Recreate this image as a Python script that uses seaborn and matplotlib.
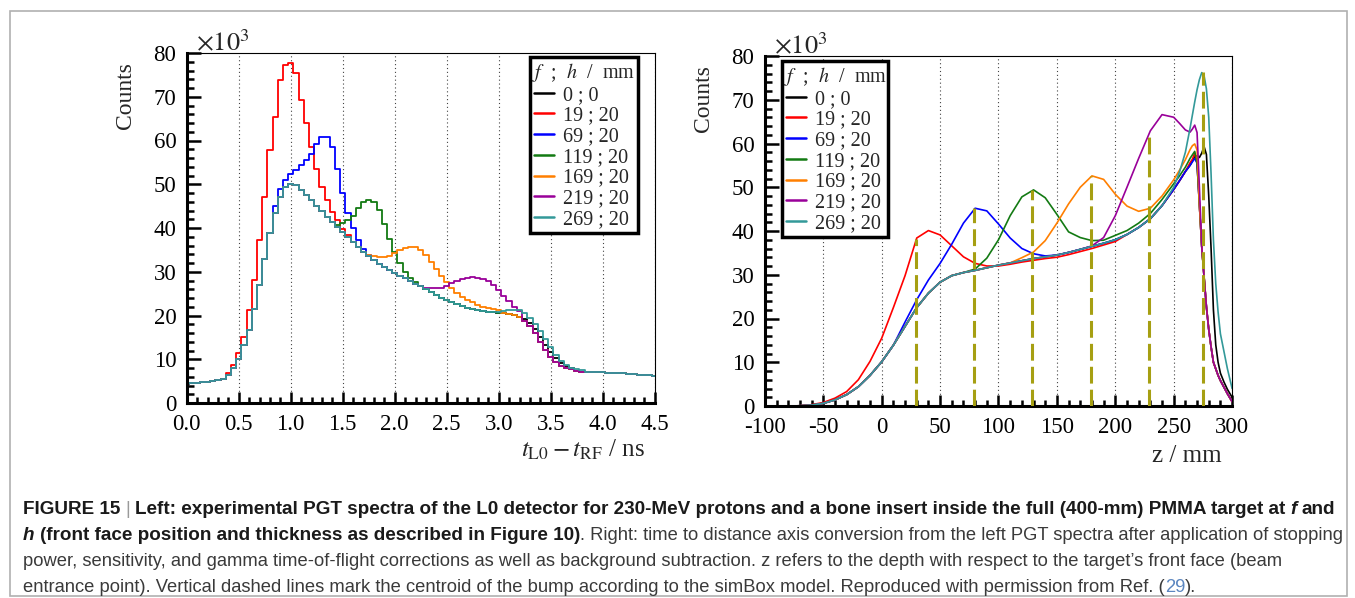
import numpy as np
import pandas as pd
import matplotlib
matplotlib.use("Agg")
import matplotlib.pyplot as plt
import seaborn as sns
from matplotlib import font_manager
from matplotlib.lines import Line2D
from matplotlib.patches import Rectangle
from matplotlib.ticker import MultipleLocator, FuncFormatter

sns.set_style("ticks")
plt.rcParams['font.family'] = ['Liberation Serif', 'DejaVu Serif']
plt.rcParams['mathtext.fontset'] = 'stix'
plt.rcParams['axes.unicode_minus'] = False

W, H = 1355, 598

# f ; h configurations and their colours
configs = ['0 ; 0', '19 ; 20', '69 ; 20', '119 ; 20', '169 ; 20', '219 ; 20', '269 ; 20']
colors = ['#000000', '#ff0000', '#0000ff', '#137a13', '#ff7f00', '#990099', '#339999']

# ---- left panel: PGT time spectra (x10^3 counts), 0.05 ns bins ----
t_step = 0.05
t_base = [
    4.4, 4.5, 4.6, 4.7, 4.8, 5.0, 5.2, 5.6, 6.3, 7.9,
    10.0, 13.2, 16.8, 21.5, 27.0, 33.0, 38.8, 43.5, 47.2, 49.3,
    50.1, 49.8, 48.8, 47.6, 46.3, 45.0, 43.8, 42.6, 41.4, 40.2,
    39.0, 37.9, 36.8, 35.7, 34.6, 33.6, 32.7, 31.8, 31.0, 30.4,
    29.8, 29.1, 28.5, 27.9, 27.3, 26.7, 26.0, 25.3, 24.7, 24.1,
    23.5, 23.0, 22.6, 22.2, 21.8, 21.5, 21.2, 21.0, 20.8, 20.7,
    20.6, 20.5, 20.4, 20.1, 19.6, 18.8, 17.6, 16.0, 14.0, 12.1,
    10.5, 9.3, 8.5, 8.0, 7.7, 7.4, 7.2, 7.1, 7.0, 7.0,
    7.0, 6.9, 6.9, 6.8, 6.8, 6.7, 6.6, 6.5, 6.4, 6.3,
    6.2]
# (first bin in ns, values) where a configuration departs from the common shape
t_bumps = {
    '0 ; 0': (3.25, [19.2, 18.3, 16.9, 15.0, 13.2, 11.6, 10.2, 9.1, 8.4, 7.9]),
    '19 ; 20': (0.40, [6.8, 8.8, 11.4, 15.2, 21.3, 28.1, 37.3, 47.2, 57.8, 65.4,
                       73.8, 77.3, 77.8, 75.4, 69.3, 63.9, 58.6, 53.6, 49.4, 46.4,
                       43.7, 41.8, 39.8, 38.3]),
    '69 ; 20': (0.85, [45.0, 49.0, 51.0, 52.3, 53.3, 54.5, 55.6, 57.0, 59.2, 60.8,
                       60.8, 58.5, 53.5, 48.0, 43.5, 40.0, 37.2, 35.2, 33.9]),
    '119 ; 20': (1.45, [40.6, 41.2, 41.8, 42.8, 44.6, 46.0, 46.5, 46.0, 44.2, 41.0,
                        37.6, 34.6, 32.0, 30.0, 28.6, 27.6]),
    '169 ; 20': (1.75, [33.8, 33.6, 33.4, 33.3, 33.6, 34.3, 35.0, 35.5, 35.7, 35.6,
                        35.0, 33.8, 32.3, 30.6, 29.0, 27.6, 26.3, 25.2, 24.3, 23.6,
                        23.0, 22.5, 22.0, 21.7, 21.4, 21.2]),
    '219 ; 20': (2.30, [26.3, 26.2, 26.2, 26.4, 26.8, 27.4, 27.9, 28.3, 28.6, 28.7,
                        28.6, 28.4, 28.0, 27.0, 25.8, 24.5, 23.3, 22.0, 21.0]),
    '269 ; 20': (3.00, [20.8, 21.0, 21.2, 21.3, 21.2, 20.6, 19.5, 18.0, 16.4, 14.6,
                        12.9, 11.0, 9.6, 8.7, 8.1, 7.8, 7.5]),
}

# ---- right panel: depth profiles (x10^3 counts) ----
z_mm = [-100, -90, -80, -70, -60, -50, -40, -30, -20, -10,
        0, 10, 20, 30, 40, 50, 60, 70, 80, 90,
        100, 110, 120, 130, 140, 150, 160, 170, 180, 190,
        200, 210, 220, 230, 240, 250, 255, 260, 264, 266,
        268, 270, 272, 274, 276, 278, 280, 282, 284, 286,
        288, 290, 293, 296, 300]
z_base = [0.0, 0.0, 0.0, 0.05, 0.2, 0.6, 1.4, 2.6, 4.4, 7.0,
          10.1, 13.9, 18.2, 22.5, 25.8, 28.3, 29.8, 30.5, 31.0, 31.6,
          32.2, 32.7, 33.2, 33.7, 34.1, 34.5, 35.1, 35.8, 36.5, 37.2,
          38.0, 39.2, 40.8, 42.8, 45.8, 49.5, 51.5, 53.6, 55.6, 56.4,
          57.2, 55.5, 46.0, 36.5, 29.5, 22.7, 17.5, 13.5, 10.0, 8.5,
          7.0, 5.8, 4.3, 2.8, 1.0]
z_bumps = {
    '0 ; 0': {264: 55.0, 266: 56.0, 268: 57.0, 270: 57.2, 272: 56.8, 274: 57.8, 276: 59.3,
              278: 57.5, 280: 48.0, 282: 36.0, 284: 22.0, 286: 14.0, 288: 10.0, 290: 7.5,
              293: 5.5, 296: 3.8, 300: 2.0},
    '19 ; 20': {-60: 0.3, -50: 0.8, -40: 1.8, -30: 3.3, -20: 6.0, -10: 10.2, 0: 15.5, 10: 22.5,
                20: 29.8, 30: 38.4, 40: 40.1, 50: 39.1, 60: 36.6, 70: 34.1, 80: 32.6, 90: 32.0,
                100: 32.0, 110: 32.4, 120: 32.9, 130: 33.3, 140: 33.7, 150: 34.0, 160: 34.6,
                170: 35.3, 180: 36.0, 190: 36.8, 200: 37.6, 268: 57.8},
    '69 ; 20': {20: 19.2, 30: 24.3, 40: 28.8, 50: 32.6, 60: 37.0, 70: 41.8, 80: 45.2, 90: 44.6,
                100: 41.6, 110: 38.4, 120: 36.0, 130: 34.8, 140: 34.3, 264: 55.0, 266: 55.8,
                268: 56.6},
    '119 ; 20': {80: 31.3, 90: 33.8, 100: 38.0, 110: 43.5, 120: 47.8, 130: 49.4, 140: 47.6,
                 150: 43.8, 160: 39.8, 170: 38.5, 180: 37.8, 190: 37.9, 200: 39.0, 210: 40.1,
                 220: 41.8, 230: 44.0, 240: 47.2, 250: 50.8, 255: 52.6, 260: 54.6, 264: 56.6,
                 266: 57.4, 268: 58.2},
    '169 ; 20': {120: 33.9, 130: 35.2, 140: 37.8, 150: 41.8, 160: 46.2, 170: 50.0, 180: 52.6,
                 190: 51.8, 200: 48.4, 210: 45.7, 220: 44.5, 230: 45.2, 240: 48.0, 250: 51.7,
                 255: 53.9, 260: 56.3, 264: 58.6, 266: 59.5, 268: 59.9, 270: 58.5},
    '219 ; 20': {180: 36.6, 190: 38.5, 200: 43.5, 210: 50.0, 220: 56.6, 230: 62.9, 240: 66.6,
                 250: 66.0, 255: 64.6, 260: 63.1, 264: 62.6, 266: 63.3, 268: 64.2, 270: 62.5,
                 272: 50.0},
    '269 ; 20': {250: 50.0, 255: 53.5, 260: 58.0, 264: 63.5, 266: 66.5, 268: 69.5, 270: 72.3,
                 272: 74.6, 274: 76.2, 276: 75.5, 278: 72.5, 280: 66.0, 282: 53.0, 284: 38.0,
                 286: 28.0, 288: 21.5, 290: 16.5, 293: 12.5, 296: 8.5, 300: 4.0},
}
# simBox bump centroids (dashed markers)
centroid_z = [29, 79, 129, 179, 229, 275]
centroid_counts = [38.1, 45.3, 49.4, 52.6, 62.7, 76.4]


def left_series(cfg):
    vals = list(t_base)
    start, seg = t_bumps[cfg]
    i0 = int(round(start / t_step))
    vals[i0:i0 + len(seg)] = seg
    return vals


t_ns = np.arange(len(t_base)) * t_step
df_left = pd.concat([pd.DataFrame({'t': t_ns, 'counts': left_series(c), 'cfg': c}) for c in configs])
df_right = pd.concat([pd.DataFrame({'z': z_mm,
                                    'counts': [z_bumps[c].get(z, b) for z, b in zip(z_mm, z_base)],
                                    'cfg': c}) for c in configs])
palette = dict(zip(configs, colors))

fig = plt.figure(figsize=(W / 100, H / 100), dpi=100)
ax1 = fig.add_axes([186.7 / W, 1 - 403 / H, 468 / W, 350 / H])
ax2 = fig.add_axes([764.9 / W, 1 - 406 / H, 467.2 / W, 350 / H])

sns.lineplot(data=df_left, x='t', y='counts', hue='cfg', hue_order=configs, palette=palette,
             estimator=None, drawstyle='steps-mid', linewidth=1.3, legend=False, ax=ax1)
sns.lineplot(data=df_right, x='z', y='counts', hue='cfg', hue_order=configs, palette=palette,
             estimator=None, linewidth=1.2, legend=False, ax=ax2)
ax2.vlines(centroid_z, 0, centroid_counts, colors='#a69f12', linestyles=(0, (5.5, 2)),
           linewidth=2.2, zorder=4)


def style_axes(ax, xlim, major, minor, fmt):
    ax.set_xlim(*xlim)
    ax.set_ylim(0, 80)
    ax.xaxis.set_major_locator(MultipleLocator(major))
    ax.xaxis.set_minor_locator(MultipleLocator(minor))
    ax.yaxis.set_major_locator(MultipleLocator(10))
    ax.yaxis.set_minor_locator(MultipleLocator(2))
    ax.xaxis.set_major_formatter(FuncFormatter(fmt))
    ax.yaxis.set_major_formatter(FuncFormatter(lambda v, p: f"{v:.0f}"))
    ax.tick_params(which='both', direction='in', top=False, right=False,
                   labelsize=16.5, width=1.8, color='black', labelcolor='black')
    ax.tick_params(axis='y', which='major', length=10, pad=7.5)
    ax.tick_params(axis='y', which='minor', length=5)
    ax.tick_params(axis='x', which='major', length=8, pad=8)
    ax.tick_params(axis='x', which='minor', length=4.5)
    for s in ['left', 'bottom']:
        ax.spines[s].set_linewidth(2.2)
        ax.spines[s].set_color('black')
    for s in ['top', 'right']:
        ax.spines[s].set_visible(True)
        ax.spines[s].set_linewidth(0.8)
        ax.spines[s].set_color('black')
    ax.grid(axis='x', which='major', linestyle=(0, (1, 2.5)), color='#444444', linewidth=0.8)
    ax.set_axisbelow(True)
    ax.set_ylabel('Counts', loc='top', fontsize=17)
    ax.yaxis.set_label_coords(-0.108, 0.975)
    ax.text(0.02, 0.99, r'$\times 10^{3}$', transform=ax.transAxes, fontsize=19,
            va='bottom', ha='left')


def add_legend(ax, x0, y1, w):
    handles = [Line2D([], [], color=c, lw=1.8) for c in colors]
    leg = ax.legend(handles, configs, title=r'$f$  ;  $h$  /  mm', loc='upper left',
                    bbox_to_anchor=(x0, y1 - 0.6, w, 0.6), mode='expand', borderaxespad=0,
                    fontsize=14.5, title_fontsize=14.5, handlelength=1.0, handletextpad=0.45,
                    labelspacing=0.08, borderpad=0.2, fancybox=False, framealpha=1,
                    edgecolor='black')
    leg.get_frame().set_linewidth(2.5)


style_axes(ax1, (0, 4.5), 0.5, 0.1, lambda v, p: f"{v:.1f}")
style_axes(ax2, (-100, 300), 50, 10, lambda v, p: f"{v:.0f}")
ax1.set_xlabel(r'$t_{\mathrm{L0}} - t_{\mathrm{RF}}$ / ns', loc='right', fontsize=18)
ax1.xaxis.set_label_coords(0.979, -0.1)
ax2.set_xlabel('z / mm', loc='right', fontsize=18)
ax2.xaxis.set_label_coords(0.978, -0.11)
add_legend(ax1, 0.7335, 0.9886, 0.2308)
add_legend(ax2, 0.0366, 0.9857, 0.227)

# ---- frame and caption ----
cap_ax = fig.add_axes([0, 0, 1, 1])
cap_ax.set_xlim(0, 1)
cap_ax.set_ylim(0, 1)
cap_ax.axis('off')
cap_ax.add_patch(Rectangle((9.5 / W, 1 - 596 / H), (1346.5 - 9.5) / W, (596 - 10.5) / H,
                           fill=False, edgecolor='#b0b0b0', linewidth=1.2))

names = {f.name for f in font_manager.fontManager.ttflist}
cap_font = 'Liberation Sans Narrow' if 'Liberation Sans Narrow' in names else 'Liberation Sans'


def fitted_size(text, weight, width_px):
    probe = cap_ax.text(0, 0, text, size=10, weight=weight, family=cap_font)
    fig.canvas.draw()
    w10 = probe.get_window_extent(fig.canvas.get_renderer()).width
    probe.remove()
    return 10 * width_px / w10


line1 = ("FIGURE 15 | Left: experimental PGT spectra of the L0 detector for 230-MeV protons and "
         "a bone insert inside the full (400-mm) PMMA target at f and")
line3 = ("power, sensitivity, and gamma time-of-flight corrections as well as background "
         "subtraction. z refers to the depth with respect to the target\u2019s front face (beam")
bold_size = fitted_size(line1, 'bold', 1310)
reg_size = fitted_size(line3, 'normal', 1266)
gap = 0.27 * bold_size

BOLD = dict(weight='bold', color='#1a1a1a', size=bold_size)
BOLDIT = dict(weight='bold', style='italic', color='#1a1a1a', size=bold_size)
REG = dict(weight='normal', color='#3a3a3a', size=reg_size)
BAR = dict(weight='light', color='#9a9a9a', size=bold_size)
LINK = dict(weight='normal', color='#5b86c0', size=reg_size)

caption = [
    (514, [("FIGURE 15", BOLD, 0), ("|", BAR, gap), ("Left: experimental PGT spectra of the L0 detector "
           "for 230-MeV protons and a bone insert inside the full (400-mm) PMMA target at", BOLD, gap),
           ("f", BOLDIT, gap), ("and", BOLD, gap)]),
    (540, [("h", BOLDIT, 0), ("(front face position and thickness as described in Figure 10)", BOLD, gap),
           (". Right: time to distance axis conversion from the left PGT spectra after application "
            "of stopping", REG, 0)]),
    (566, [(line3, REG, 0)]),
    (592, [("entrance point). Vertical dashed lines mark the centroid of the bump according to the "
            "simBox model. Reproduced with permission from Ref. (", REG, 0), ("29", LINK, 0),
           (").", REG, 0)]),
]
for y_px, parts in caption:
    prev = None
    for text, style, dx in parts:
        if prev is None:
            prev = cap_ax.text(23 / W, 1 - y_px / H, text, va='baseline', ha='left',
                               family=cap_font, **style)
        else:
            prev = cap_ax.annotate(text, xy=(1, 0), xycoords=prev, xytext=(dx, 0),
                                   textcoords='offset points', va='bottom', ha='left',
                                   family=cap_font, **style)

fig.savefig('out.png', dpi=100)
